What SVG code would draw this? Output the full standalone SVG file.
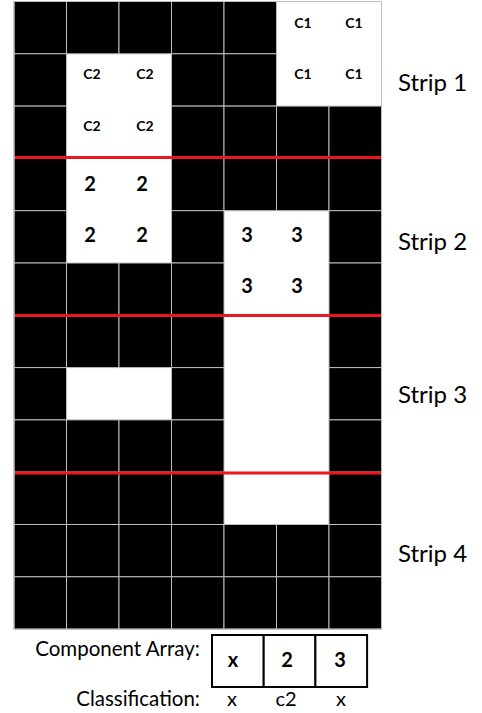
<svg xmlns="http://www.w3.org/2000/svg" xmlns:xlink="http://www.w3.org/1999/xlink" width="482" height="713" viewBox="0 0 482 713">
<style>
.blk{fill:#000;stroke:#bdbdbd;stroke-width:1}
.wht{fill:#fff;stroke:none}
.red{stroke:#ee1622;stroke-width:3;fill:none}
.cl{font-family:Lato,"Liberation Sans",sans-serif;font-weight:bold;font-size:14px;text-anchor:middle;fill:#000}
.num{font-family:Lato,"Liberation Sans",sans-serif;font-weight:bold;font-size:20px;text-anchor:middle;fill:#000}
.strip{font-family:Lato,"Liberation Sans",sans-serif;font-size:24px;fill:#000}
.lbl{font-family:Lato,"Liberation Sans",sans-serif;font-size:20.5px;fill:#000;text-anchor:end}
.cls{font-family:Lato,"Liberation Sans",sans-serif;font-size:20px;fill:#000;text-anchor:middle}
.box{fill:#fff;stroke:#000;stroke-width:2}
</style>
<defs>
<rect id="b" width="52.5" height="52.3" class="blk"/>
</defs>
<rect width="482" height="713" fill="#fff"/>
<g id="grid">
<use href="#b" x="14" y="1.5"/><use href="#b" x="66.5" y="1.5"/><use href="#b" x="119" y="1.5"/><use href="#b" x="171.5" y="1.5"/><use href="#b" x="224" y="1.5"/>
<use href="#b" x="14" y="53.8"/><use href="#b" x="171.5" y="53.8"/><use href="#b" x="224" y="53.8"/>
<use href="#b" x="14" y="106.1"/><use href="#b" x="171.5" y="106.1"/><use href="#b" x="224" y="106.1"/><use href="#b" x="276.5" y="106.1"/><use href="#b" x="329" y="106.1"/>
<use href="#b" x="14" y="158.4"/><use href="#b" x="171.5" y="158.4"/><use href="#b" x="224" y="158.4"/><use href="#b" x="276.5" y="158.4"/><use href="#b" x="329" y="158.4"/>
<use href="#b" x="14" y="210.7"/><use href="#b" x="171.5" y="210.7"/><use href="#b" x="329" y="210.7"/>
<use href="#b" x="14" y="263"/><use href="#b" x="66.5" y="263"/><use href="#b" x="119" y="263"/><use href="#b" x="171.5" y="263"/><use href="#b" x="329" y="263"/>
<use href="#b" x="14" y="315.3"/><use href="#b" x="66.5" y="315.3"/><use href="#b" x="119" y="315.3"/><use href="#b" x="171.5" y="315.3"/><use href="#b" x="329" y="315.3"/>
<use href="#b" x="14" y="367.6"/><use href="#b" x="171.5" y="367.6"/><use href="#b" x="329" y="367.6"/>
<use href="#b" x="14" y="419.9"/><use href="#b" x="66.5" y="419.9"/><use href="#b" x="119" y="419.9"/><use href="#b" x="171.5" y="419.9"/><use href="#b" x="329" y="419.9"/>
<use href="#b" x="14" y="472.2"/><use href="#b" x="66.5" y="472.2"/><use href="#b" x="119" y="472.2"/><use href="#b" x="171.5" y="472.2"/><use href="#b" x="329" y="472.2"/>
<use href="#b" x="14" y="524.5"/><use href="#b" x="66.5" y="524.5"/><use href="#b" x="119" y="524.5"/><use href="#b" x="171.5" y="524.5"/><use href="#b" x="224" y="524.5"/><use href="#b" x="276.5" y="524.5"/><use href="#b" x="329" y="524.5"/>
<use href="#b" x="14" y="576.8"/><use href="#b" x="66.5" y="576.8"/><use href="#b" x="119" y="576.8"/><use href="#b" x="171.5" y="576.8"/><use href="#b" x="224" y="576.8"/><use href="#b" x="276.5" y="576.8"/><use href="#b" x="329" y="576.8"/>
<rect x="14" y="1.5" width="367.5" height="627.6" fill="none" stroke="#bdbdbd" stroke-width="1"/>
</g>
<g id="labels-c1">
<text class="cl" x="303" y="28">C1</text><text class="cl" x="354" y="28">C1</text>
<text class="cl" x="303" y="79">C1</text><text class="cl" x="354" y="79">C1</text>
</g>
<g id="labels-c2">
<text class="cl" x="92" y="79">C2</text><text class="cl" x="145" y="79">C2</text>
<text class="cl" x="92" y="131">C2</text><text class="cl" x="145" y="131">C2</text>
</g>
<g id="labels-2">
<text class="num" x="90" y="190.5">2</text><text class="num" x="142" y="190.5">2</text>
<text class="num" x="90" y="241.5">2</text><text class="num" x="142" y="241.5">2</text>
</g>
<g id="labels-3">
<text class="num" x="247" y="241.5">3</text><text class="num" x="297" y="241.5">3</text>
<text class="num" x="247" y="292.5">3</text><text class="num" x="297" y="292.5">3</text>
</g>
<g id="connectors">
<line class="red" x1="15" y1="157.5" x2="381" y2="157.5"/>
<line class="red" x1="15" y1="315.5" x2="381" y2="315.5"/>
<line class="red" x1="15" y1="473" x2="381" y2="473"/>
</g>
<g id="strip1"><text class="strip" x="398" y="91">Strip 1</text></g>
<g id="strip2"><text class="strip" x="398" y="250">Strip 2</text></g>
<g id="strip3"><text class="strip" x="398" y="403">Strip 3</text></g>
<g id="strip4"><text class="strip" x="398" y="562">Strip 4</text></g>
<g id="component-array">
<text class="lbl" x="200" y="656">Component Array:</text>
<rect class="box" x="212" y="635" width="51.7" height="52"/>
<rect class="box" x="263.7" y="635" width="51.7" height="52"/>
<rect class="box" x="315.4" y="635" width="51.7" height="52"/>
<text class="num" x="233" y="667">x</text>
<text class="num" x="287" y="667">2</text>
<text class="num" x="340" y="667">3</text>
</g>
<g id="classification">
<text class="lbl" x="200" y="706">Classification:</text>
<text class="cls" x="232" y="706">x</text>
<text class="cls" x="286" y="706">c2</text>
<text class="cls" x="341" y="706">x</text>
</g>
</svg>
